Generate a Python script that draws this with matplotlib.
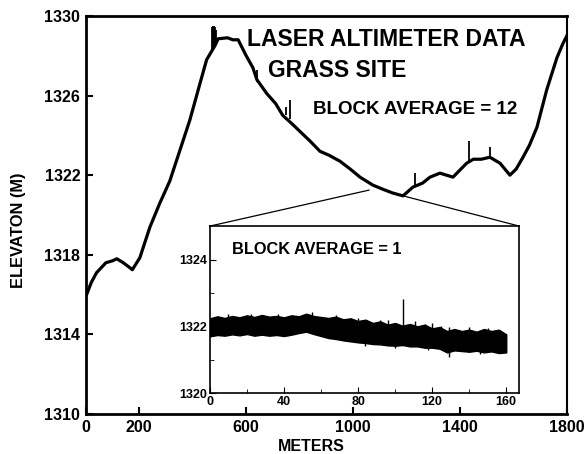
import numpy as np
import matplotlib
matplotlib.use("Agg")
import matplotlib.pyplot as plt
from matplotlib.patches import ConnectionPatch

plt.rcParams.update({
    "font.family": ["Liberation Sans", "DejaVu Sans"],
    "font.weight": "bold",
})

# main profile, block average = 12 (meters, elevation m)
dist_m = [0, 20, 40, 75, 100, 116, 140, 160, 174, 202, 240, 277, 314, 352, 389,
          427, 452, 483, 495, 530, 550, 570, 600, 625, 640, 677, 710, 737, 770,
          801, 840, 876, 910, 951, 990, 1026, 1050, 1074, 1110, 1149, 1187, 1224,
          1260, 1288, 1325, 1374, 1425, 1450, 1480, 1512, 1550, 1587, 1610, 1636,
          1660, 1688, 1725, 1763, 1785, 1800]
elev_m = [1315.9, 1316.6, 1317.1, 1317.6, 1317.7, 1317.8, 1317.6, 1317.4, 1317.25,
          1317.85, 1319.4, 1320.6, 1321.7, 1323.25, 1324.76, 1326.6, 1327.8,
          1328.5, 1328.85, 1328.9, 1328.8, 1328.8, 1328.0, 1327.4, 1326.8, 1326.1,
          1325.6, 1325.0, 1324.6, 1324.2, 1323.7, 1323.2, 1323.0, 1322.7, 1322.3,
          1321.9, 1321.7, 1321.5, 1321.3, 1321.1, 1320.96, 1321.4, 1321.6, 1321.9,
          1322.1, 1321.9, 1322.6, 1322.8, 1322.8, 1322.9, 1322.6, 1322.0, 1322.3,
          1322.9, 1323.5, 1324.4, 1326.3, 1327.9, 1328.6, 1329.0]

# spikes in the main profile: position, base, top
spike_x = [472, 476, 480, 484, 488, 640, 748, 763, 1231, 1434, 1512]
spike_lo = [1328.3, 1328.4, 1328.5, 1328.6, 1328.7, 1327.3, 1325.0, 1324.8, 1321.4, 1322.7, 1322.9]
spike_hi = [1329.45, 1329.5, 1329.5, 1329.45, 1329.3, 1326.7, 1325.4, 1325.8, 1322.1, 1323.7, 1323.4]

# inset, block average = 1: envelope of the noisy trace
ins_x = list(range(0, 161, 4))
ins_hi = [1322.24, 1322.30, 1322.25, 1322.31, 1322.27, 1322.33, 1322.28, 1322.34,
          1322.29, 1322.31, 1322.27, 1322.33, 1322.30, 1322.38, 1322.31, 1322.28,
          1322.25, 1322.29, 1322.21, 1322.24, 1322.16, 1322.20, 1322.10, 1322.15,
          1322.05, 1322.10, 1322.02, 1322.07, 1322.00, 1322.05, 1321.94, 1321.98,
          1321.86, 1321.92, 1321.86, 1321.90, 1321.84, 1321.92, 1321.86, 1321.90,
          1321.76]
ins_lo = [1321.70, 1321.74, 1321.72, 1321.76, 1321.73, 1321.77, 1321.72, 1321.75,
          1321.72, 1321.74, 1321.71, 1321.75, 1321.80, 1321.84, 1321.77, 1321.71,
          1321.65, 1321.62, 1321.58, 1321.55, 1321.52, 1321.50, 1321.47, 1321.46,
          1321.43, 1321.42, 1321.44, 1321.40, 1321.40, 1321.36, 1321.36, 1321.33,
          1321.22, 1321.28, 1321.26, 1321.24, 1321.27, 1321.22, 1321.25, 1321.20,
          1321.22]
ins_spike_x = [10, 22, 37, 55, 68, 80, 92, 96, 104, 111, 116, 120, 125, 129, 140, 150]
ins_spike_lo = [1322.2, 1322.25, 1322.2, 1322.3, 1322.2, 1322.1, 1322.0, 1322.0, 1321.9,
                1322.0, 1321.95, 1321.9, 1321.9, 1321.8, 1321.85, 1321.85]
ins_spike_hi = [1322.36, 1322.38, 1322.36, 1322.44, 1322.34, 1322.26, 1322.18, 1322.2,
                1322.82, 1322.16, 1322.08, 1322.1, 1322.0, 1321.97, 1321.98, 1321.96]
ins_dip_x = [84, 100, 118, 129, 146]
ins_dip_lo = [1321.42, 1321.34, 1321.3, 1321.08, 1321.18]
ins_dip_hi = [1321.55, 1321.45, 1321.4, 1321.3, 1321.26]

fig = plt.figure(figsize=(5.88, 4.54), dpi=100)
ax = fig.add_axes([0.146, 0.088, 0.818, 0.877])

ax.plot(dist_m, elev_m, color="black", lw=2.3, solid_joinstyle="round")
ax.vlines(spike_x, spike_lo, spike_hi, color="black", lw=1.3)
ax.set_xlim(0, 1800)
ax.set_ylim(1310, 1330)
ax.set_xticks([0, 200, 600, 1000, 1400, 1800])
ax.set_yticks([1310, 1314, 1318, 1322, 1326, 1330])
ax.tick_params(direction="in", length=5, width=1.5, labelsize=11.5, pad=4)
for lab in ax.get_xticklabels() + ax.get_yticklabels():
    lab.set_fontweight("bold")
for side in ["left", "bottom", "top"]:
    ax.spines[side].set_linewidth(2)
ax.spines["right"].set_linewidth(1.5)

ax.text(0.335, 0.94, "LASER ALTIMETER DATA", transform=ax.transAxes,
        fontsize=16.5, fontweight="bold", va="center", ha="left")
ax.text(0.378, 0.862, "GRASS SITE", transform=ax.transAxes,
        fontsize=16.5, fontweight="bold", va="center", ha="left")
ax.text(0.472, 0.766, "BLOCK AVERAGE = 12", transform=ax.transAxes,
        fontsize=13.5, fontweight="bold", va="center", ha="left")

fig.text(0.032, 0.493, "ELEVATON (M)", rotation=90, fontsize=11.8,
         fontweight="bold", ha="center", va="center")
fig.text(0.53, 0.017, "METERS", fontsize=11.5, fontweight="bold",
         ha="center", va="center")

# inset
axi = fig.add_axes([0.357, 0.134, 0.526, 0.368])
axi.fill_between(ins_x, ins_lo, ins_hi, color="black", lw=1.0, edgecolor="black")
axi.vlines(ins_spike_x, ins_spike_lo, ins_spike_hi, color="black", lw=1.0)
axi.vlines(ins_dip_x, ins_dip_lo, ins_dip_hi, color="black", lw=1.0)
axi.set_xlim(0, 167)
axi.set_ylim(1320, 1325)
axi.set_xticks([0, 40, 80, 120, 160])
axi.set_xticks([20, 60, 100, 140], minor=True)
axi.set_yticks([1320, 1322, 1324])
axi.set_yticks([1321, 1323], minor=True)
axi.tick_params(which="both", direction="in", labelsize=9, pad=2)
axi.tick_params(which="major", length=4)
axi.tick_params(which="minor", length=3)
for lab in axi.get_xticklabels() + axi.get_yticklabels():
    lab.set_fontweight("bold")
for sp in axi.spines.values():
    sp.set_linewidth(1.2)
axi.text(0.07, 0.86, "BLOCK AVERAGE = 1", transform=axi.transAxes,
         fontsize=11.8, fontweight="bold", va="center", ha="left")

# zoom lines from inset corners to the profile
for corner, target in [((0, 1), (1060, 1321.25)), ((1, 1), (1190, 1320.95))]:
    fig.add_artist(ConnectionPatch(xyA=corner, coordsA=axi.transAxes,
                                   xyB=target, coordsB=ax.transData,
                                   color="black", lw=0.9))

fig.savefig("out.png", dpi=100)
